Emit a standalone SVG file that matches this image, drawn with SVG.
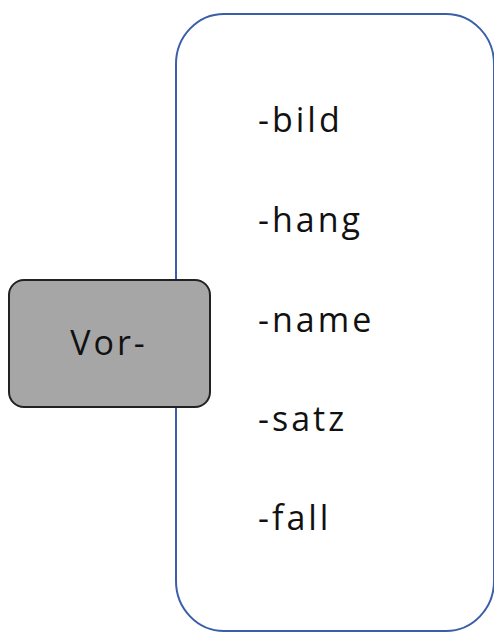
<svg xmlns="http://www.w3.org/2000/svg" width="494" height="634" viewBox="0 0 494 634">
<style>
.lbl{font-family:"Open Sans","Noto Sans",sans-serif;font-size:34px;letter-spacing:3px;fill:#111}
</style>
<rect width="494" height="634" fill="#fff"/>
<g id="list">
<rect x="176" y="14" width="318" height="617" rx="48" ry="50" fill="#fff" stroke="#3b5ea8" stroke-width="2"/>
<text class="lbl" x="258" y="132">-bild</text>
<text class="lbl" x="258" y="232">-hang</text>
<text class="lbl" x="258" y="332">-name</text>
<text class="lbl" x="258" y="431">-satz</text>
<text class="lbl" x="258" y="530">-fall</text>
</g>
<g id="connectors"></g>
<g id="vor">
<rect x="9" y="280" width="201" height="127" rx="15" fill="#a6a6a6" stroke="#222" stroke-width="2"/>
<text class="lbl" x="109" y="355" text-anchor="middle">Vor-</text>
</g>
</svg>
